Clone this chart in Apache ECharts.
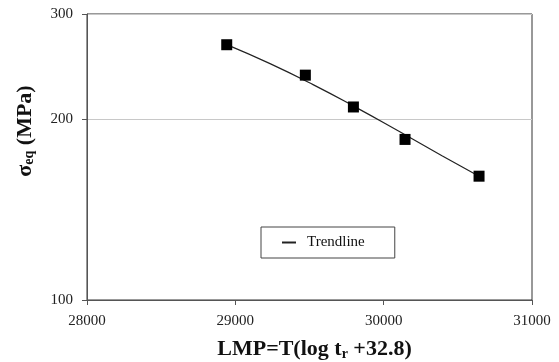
<!DOCTYPE html>
<html>
<head>
<meta charset="utf-8">
<script src="https://cdn.jsdelivr.net/npm/echarts@6/dist/echarts.min.js"></script>
<style>
  html, body { margin: 0; padding: 0; background: #fff; }
  #chart { width: 559px; height: 362px; }
</style>
</head>
<body>
<div id="chart"></div>
<script>
// measured points: LMP vs equivalent stress (MPa)
const lmp = [28942, 29472, 29796, 30144, 30643]
const stress = [266.6, 237.2, 209.9, 185.3, 160.9]

// trendline
const trendX = [28942, 29234, 29524, 29813, 30103, 30393, 30643]
const trendY = [266.7, 247.9, 228.7, 209.6, 191.2, 174.1, 160.9]

const xTicks = [28000, 29000, 30000, 31000]
const yTicks = [100, 200, 300]

const chart = echarts.init(document.getElementById('chart'))
const serif = 'Liberation Serif'

chart.setOption({
  animation: false,
  grid: {
    left: 87, right: 27, top: 14, bottom: 62,
    outerBoundsMode: 'none',
    show: true, borderColor: '#333', borderWidth: 1,
  },
  legend: {
    data: ['Trendline'],
    left: 261,
    top: 227,
    padding: [8, 30, 8, 21],
    borderColor: '#444',
    borderWidth: 1,
    icon: 'rect',
    itemWidth: 14,
    itemHeight: 2,
    itemGap: 0,
    textStyle: { fontFamily: serif, fontSize: 15, color: '#111', padding: [0, 0, 0, 6] },
  },
  xAxis: {
    type: 'value',
    min: xTicks[0],
    max: xTicks[xTicks.length - 1],
    interval: 1000,
    name: 'LMP=T(log t{s|r} +32.8)',
    nameLocation: 'middle',
    nameGap: 38,
    nameTextStyle: {
      fontFamily: serif, fontSize: 22, fontWeight: 'bold', color: '#111', padding: [0, 0, 0, 10],
      rich: { s: { fontFamily: serif, fontSize: 14, fontWeight: 'bold', color: '#111', padding: [9, 0, 0, 0] } },
    },
    axisLine: { lineStyle: { color: '#555' } },
    axisTick: { show: true, length: 5, lineStyle: { color: '#555' } },
    axisLabel: { fontFamily: serif, fontSize: 15, color: '#222', margin: 14, formatter: v => String(v) },
    splitLine: { show: false },
  },
  yAxis: {
    type: 'log',
    logBase: 10,
    min: yTicks[0],
    max: yTicks[yTicks.length - 1],
    interval: Math.log10(2),
    axisLine: { show: true, lineStyle: { color: '#555' } },
    axisTick: { show: true, length: 5, lineStyle: { color: '#555' } },
    axisLabel: {
      fontFamily: serif, fontSize: 15, color: '#222', margin: 14,
      formatter: v => String(Math.round(v)),
    },
    splitLine: { show: true, lineStyle: { color: '#c8c8c8' } },
    minorTick: { show: false },
  },
  graphic: [{
    type: 'text',
    x: 25,
    y: 131,
    rotation: Math.PI / 2,
    style: {
      text: '{a|σ}{b|eq}{a| (MPa)}',
      align: 'center',
      verticalAlign: 'middle',
      fill: '#111',
      rich: {
        a: { fontFamily: serif, fontSize: 22, fontWeight: 'bold', fill: '#111' },
        b: { fontFamily: serif, fontSize: 14, fontWeight: 'bold', fill: '#111', padding: [9, 0, 0, 0] },
      },
    },
  }],
  series: [
    {
      name: 'Trendline',
      type: 'line',
      data: trendX.map((x, i) => [x, trendY[i]]),
      smooth: true,
      symbol: 'none',
      lineStyle: { color: '#222', width: 1.2 },
      itemStyle: { color: '#222' },
      z: 2,
    },
    {
      name: 'Data',
      type: 'scatter',
      data: lmp.map((x, i) => [x, stress[i]]),
      symbol: 'rect',
      symbolSize: 11,
      itemStyle: { color: '#000', opacity: 1 },
      z: 3,
    },
  ],
})
</script>
</body>
</html>
